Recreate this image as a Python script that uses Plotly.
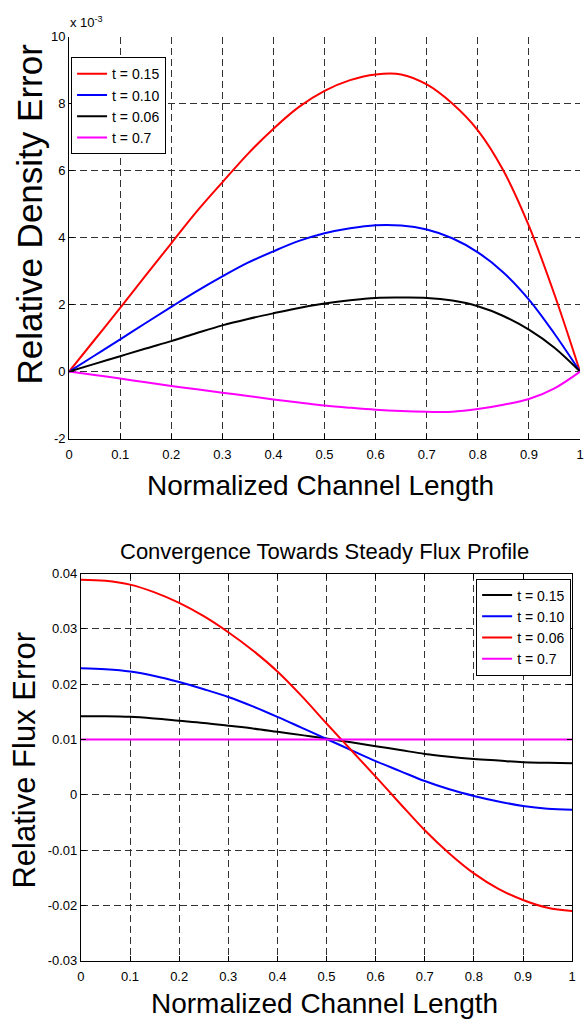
import plotly.graph_objects as go

# ---------------- data ----------------
x_len = [0, 0.05, 0.1, 0.15, 0.2, 0.25, 0.3, 0.35, 0.4, 0.45, 0.5,
         0.55, 0.6, 0.65, 0.7, 0.75, 0.8, 0.85, 0.9, 0.95, 1.0]

# Relative density error, units of 1e-3
dens_t015 = [0, 0.95, 1.9, 2.87, 3.83, 4.78, 5.65, 6.5, 7.25, 7.9, 8.38,
             8.7, 8.87, 8.87, 8.57, 8.0, 7.2, 6.0, 4.35, 2.3, 0]
dens_t010 = [0, 0.48, 0.96, 1.45, 1.93, 2.4, 2.84, 3.25, 3.59, 3.9, 4.13,
             4.28, 4.37, 4.36, 4.24, 3.98, 3.56, 2.96, 2.15, 1.13, 0]
dens_t006 = [0, 0.23, 0.46, 0.69, 0.91, 1.15, 1.38, 1.57, 1.74, 1.9, 2.03,
             2.13, 2.2, 2.21, 2.2, 2.12, 1.95, 1.66, 1.25, 0.71, 0]
dens_t07 = [0, -0.1, -0.21, -0.32, -0.43, -0.53, -0.63, -0.73, -0.83, -0.92, -1.01,
            -1.08, -1.14, -1.18, -1.2, -1.2, -1.12, -0.99, -0.82, -0.5, 0]

# Relative flux error
flux_t015 = [0.0142, 0.0142, 0.0141, 0.0138, 0.0134, 0.0130, 0.0125, 0.0120, 0.0114, 0.0108, 0.0102,
             0.0095, 0.0088, 0.0081, 0.0074, 0.0069, 0.0065, 0.0062, 0.0059, 0.0058, 0.0057]
flux_t010 = [0.0229, 0.0227, 0.0223, 0.0215, 0.0204, 0.0191, 0.0177, 0.0160, 0.0141, 0.0121, 0.0101,
             0.0081, 0.0061, 0.0043, 0.0025, 0.0010, -0.0002, -0.0012, -0.0020, -0.0025, -0.0027]
flux_t006 = [0.0389, 0.0387, 0.0380, 0.0366, 0.0347, 0.0323, 0.0294, 0.0261, 0.0223, 0.0178, 0.0129,
             0.0081, 0.0033, -0.0016, -0.0064, -0.0106, -0.0142, -0.0170, -0.0190, -0.0204, -0.0210]
flux_t07 = [0.0100] * 21

x_tickvals = [0, 0.1, 0.2, 0.3, 0.4, 0.5, 0.6, 0.7, 0.8, 0.9, 1.0]
x_ticktext = ["0", "0.1", "0.2", "0.3", "0.4", "0.5", "0.6", "0.7", "0.8", "0.9", "1"]
dens_tickvals = [-2, 0, 2, 4, 6, 8, 10]
dens_ticktext = ["-2", "0", "2", "4", "6", "8", "10"]
flux_tickvals = [-0.03, -0.02, -0.01, 0, 0.01, 0.02, 0.03, 0.04]
flux_ticktext = ["-0.03", "-0.02", "-0.01", "0", "0.01", "0.02", "0.03", "0.04"]

# ---------------- figure ----------------
FONT = "Liberation Sans, Arial, Helvetica, sans-serif"
W, H = 585, 1024

fig = go.Figure()

def line(x, y, name, color, xa, ya, leg):
    return go.Scatter(x=x, y=y, name=name, mode="lines",
                      line=dict(color=color, width=2, shape="spline", smoothing=1.0),
                      xaxis=xa, yaxis=ya, legend=leg)

fig.add_trace(line(x_len, dens_t015, "t = 0.15", "#ff0000", "x", "y", "legend"))
fig.add_trace(line(x_len, dens_t010, "t = 0.10", "#0000ff", "x", "y", "legend"))
fig.add_trace(line(x_len, dens_t006, "t = 0.06", "#000000", "x", "y", "legend"))
fig.add_trace(line(x_len, dens_t07, "t = 0.7", "#ff00ff", "x", "y", "legend"))

fig.add_trace(line(x_len, flux_t015, "t = 0.15", "#000000", "x2", "y2", "legend2"))
fig.add_trace(line(x_len, flux_t010, "t = 0.10", "#0000ff", "x2", "y2", "legend2"))
fig.add_trace(line(x_len, flux_t006, "t = 0.06", "#ff0000", "x2", "y2", "legend2"))
fig.add_trace(line(x_len, flux_t07, "t = 0.7", "#ff00ff", "x2", "y2", "legend2"))

GRID = "rgb(50,50,50)"
common = dict(showgrid=True, gridcolor=GRID, griddash="7px,4px", gridwidth=1,
              zeroline=False, showline=True, linecolor="black", linewidth=1,
              ticks="inside", ticklen=5, tickcolor="black",
              tickfont=dict(family=FONT, size=13, color="black"))

def px2x(p):
    return p / W

def px2y(p):
    return 1 - p / H

fig.update_layout(
    width=W, height=H, margin=dict(l=0, r=0, t=0, b=0),
    paper_bgcolor="white", plot_bgcolor="white",
    font=dict(family=FONT, color="black"),
    xaxis=dict(domain=[px2x(66), px2x(584)], range=[0, 1], anchor="y",
               tickvals=x_tickvals, ticktext=x_ticktext, mirror=False,
               ticklabelstandoff=4, **common),
    yaxis=dict(domain=[px2y(438), px2y(30)], range=[-2, 10], anchor="x",
               tickvals=dens_tickvals, ticktext=dens_ticktext, mirror=False,
               ticklabelstandoff=0, **common),
    xaxis2=dict(domain=[px2x(78), px2x(576)], range=[0, 1], anchor="y2",
                tickvals=x_tickvals, ticktext=x_ticktext, mirror="ticks",
                ticklabelstandoff=4, **common),
    yaxis2=dict(domain=[px2y(968), px2y(575)], range=[-0.03, 0.04], anchor="x2",
                tickvals=flux_tickvals, ticktext=flux_ticktext, mirror="ticks",
                ticklabelstandoff=0, **common),
    legend=dict(x=px2x(68), y=px2y(51), xanchor="left", yanchor="top",
                bgcolor="white", bordercolor="black", borderwidth=1,
                font=dict(family=FONT, size=14, color="black"),
                itemwidth=30, tracegroupgap=0),
    legend2=dict(x=px2x(575), y=px2y(580), xanchor="right", yanchor="top",
                 bgcolor="white", bordercolor="black", borderwidth=1,
                 font=dict(family=FONT, size=14, color="black"),
                 itemwidth=30, tracegroupgap=0),
    showlegend=True,
)

annotations = [
    dict(text="x 10<sup>-3</sup>", x=px2x(65), y=px2y(15), xanchor="left", yanchor="middle",
         font=dict(size=13)),
    dict(text="Normalized Channel Length", x=px2x(321), y=px2y(486), xanchor="center",
         yanchor="middle", font=dict(size=28)),
    dict(text="Relative Density Error", x=px2x(26), y=px2y(210), xanchor="center",
         yanchor="middle", textangle=-90, font=dict(size=35)),
    dict(text="Convergence Towards Steady Flux Profile", x=px2x(325), y=px2y(553),
         xanchor="center", yanchor="middle", font=dict(size=22)),
    dict(text="Relative Flux Error", x=px2x(21), y=px2y(764), xanchor="center",
         yanchor="middle", textangle=-90, font=dict(size=31)),
    dict(text="Normalized Channel Length", x=px2x(325), y=px2y(1011), xanchor="center",
         yanchor="middle", font=dict(size=28)),
]
for a in annotations:
    a.update(xref="paper", yref="paper", showarrow=False)
    a["font"].update(family=FONT, color="black")
fig.update_layout(annotations=annotations)

fig.write_html("out.html")
